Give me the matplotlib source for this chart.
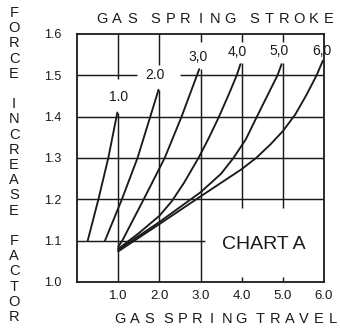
import matplotlib
matplotlib.use("Agg")
import matplotlib.pyplot as plt

plt.rcParams['font.family'] = ['Liberation Sans', 'DejaVu Sans']

# Force increase factor versus travel, one curve per gas spring stroke
stroke_labels = ["1.0", "2.0", "3,0", "4,0", "5,0", "6,0"]

travel_1 = [0.26, 0.52, 0.76, 0.98]
factor_1 = [1.100, 1.200, 1.300, 1.410]

travel_2 = [0.68, 1.09, 1.47, 1.78, 1.98]
factor_2 = [1.100, 1.200, 1.300, 1.400, 1.465]

travel_3 = [1.00, 1.10, 1.62, 2.13, 2.54, 2.97]
factor_3 = [1.085, 1.100, 1.200, 1.300, 1.400, 1.515]

travel_4 = [1.00, 1.50, 2.00, 2.30, 2.60, 2.95, 3.20, 3.45, 3.70, 3.88, 3.97]
factor_4 = [1.080, 1.118, 1.160, 1.195, 1.240, 1.300, 1.348, 1.400, 1.457,
            1.500, 1.527]

travel_5 = [1.00, 2.00, 3.00, 3.50, 3.80, 4.10, 4.37, 4.62, 4.87, 4.97]
factor_5 = [1.078, 1.145, 1.217, 1.262, 1.300, 1.345, 1.400, 1.450, 1.500,
            1.527]

travel_6 = [1.00, 2.00, 3.00, 4.00, 4.35, 4.70, 5.00, 5.30, 5.57, 5.82, 5.97]
factor_6 = [1.074, 1.140, 1.207, 1.273, 1.300, 1.333, 1.365, 1.405, 1.452,
            1.500, 1.535]

x_ticks = [1, 2, 3, 4, 5, 6]
x_tick_labels = ["1.0", "2.0", "3.0", "4.0", "5.0", "6.0"]
y_ticks = [1.0, 1.1, 1.2, 1.3, 1.4, 1.5, 1.6]
y_tick_labels = ["1.0", "1.1", "1.2", "1.3", "1.4", "1.5", "1.6"]

W, H = 340, 330
INK = "#1a1a1a"

fig = plt.figure(figsize=(W / 100, H / 100), dpi=100)
fig.patch.set_facecolor("white")
ax = fig.add_axes([77 / W, 48 / H, 247 / W, 248 / H])
ax.set_xlim(0, 6)
ax.set_ylim(1.0, 1.6)

for side in ax.spines.values():
    side.set_color(INK)
    side.set_linewidth(1.3)

ax.set_xticks(x_ticks)
ax.set_xticklabels(x_tick_labels, fontsize=9.5, color=INK)
ax.set_yticks(y_ticks)
ax.set_yticklabels(y_tick_labels, fontsize=9, color=INK)
ax.tick_params(axis="x", length=0, pad=6)
ax.tick_params(axis="y", length=0, pad=11)

# Ruled grid, broken where the stroke labels and the chart name sit
gkw = dict(color=INK, linewidth=1.05, zorder=1)
ax.hlines([1.2, 1.3, 1.4], 0, 6, **gkw)
ax.hlines(1.1, 0, 3.12, **gkw)
ax.hlines(1.5, 0, 1.45, **gkw)
ax.hlines(1.5, 2.5, 6, **gkw)
ax.vlines(1, 1.0, 1.41, **gkw)
ax.vlines(1, 1.49, 1.6, **gkw)
ax.vlines(2, 1.0, 1.465, **gkw)
ax.vlines(2, 1.525, 1.6, **gkw)
ax.vlines(3, 1.0, 1.515, **gkw)
ax.vlines(3, 1.58, 1.6, **gkw)
for xv in (4, 5):
    ax.vlines(xv, 1.18, 1.53, **gkw)
    ax.vlines(xv, 1.58, 1.6, **gkw)
    ax.vlines(xv, 1.0, 1.012, **gkw)

curves = [
    (travel_1, factor_1), (travel_2, factor_2), (travel_3, factor_3),
    (travel_4, factor_4), (travel_5, factor_5), (travel_6, factor_6),
]
for tx, fy in curves:
    ax.plot(tx, fy, color=INK, linewidth=1.35, solid_joinstyle="round",
            solid_capstyle="round", zorder=2)

label_pos = [(1.0, 1.447), (1.9, 1.500), (2.93, 1.545),
             (3.9, 1.557), (4.9, 1.560), (5.95, 1.560)]
for text, (lx, ly) in zip(stroke_labels, label_pos):
    ax.text(lx, ly, text, ha="center", va="center", fontsize=10,
            color=INK, zorder=3, clip_on=False)

ax.text(4.55, 1.09, "CHART A", ha="center", va="center", fontsize=14,
        color=INK)


def spaced(text, x0, y, step, gap, size):
    x = x0
    for ch in text:
        if ch == " ":
            x += gap
            continue
        fig.text(x / W, 1 - y / H, ch, ha="center", va="center",
                 fontsize=size, color=INK)
        x += step


def stacked(text, x, y0, step, size):
    y = y0
    for ch in text:
        if ch != " ":
            fig.text(x / W, 1 - y / H, ch, ha="center", va="center",
                     fontsize=size, color=INK)
        y += step


spaced("GAS SPRING STROKE", 102, 19, 14.9, 9, 10.5)
spaced("GAS SPRING TRAVEL", 120, 319, 14.6, 4.4, 10.5)
stacked("FORCE INCREASE FACTOR", 14, 13, 15.2, 10.5)

fig.savefig("out.png", dpi=100, facecolor="white")
